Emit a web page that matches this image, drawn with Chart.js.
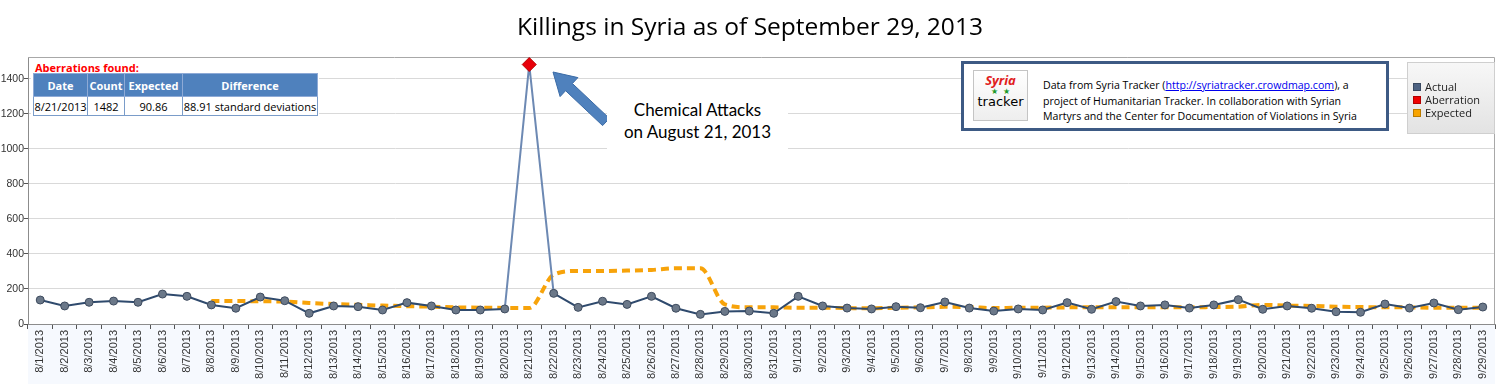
<!DOCTYPE html>
<html>
<head>
<meta charset="utf-8">
<script src="https://cdn.jsdelivr.net/npm/chart.js@4.4.0/dist/chart.umd.min.js"></script>
<style>
html,body{margin:0;padding:0;background:#fff;overflow:hidden;}
#wrap{position:relative;width:1500px;height:384px;}
#chart{position:absolute;left:0;top:0;}
.ov{position:absolute;font-family:'Open Sans',sans-serif;color:#000;}
#title{left:0;top:9px;width:1500px;text-align:center;font-size:24.5px;}
#aber{left:31px;top:59px;width:288px;height:60px;background:#fff;}
#aber .cap{position:absolute;left:4px;top:1px;color:#f00;font-weight:bold;font-size:11px;}
#aber table{position:absolute;left:2px;top:14px;border-collapse:collapse;font-size:11px;}
#aber th{background:#4f81bd;color:#fff;font-weight:bold;height:22px;border:1px solid #8eaad6;padding:0;}
#aber td{height:18px;border:1px solid #7a9cc9;padding:0;text-align:center;}
#note{left:607px;top:88px;width:181px;height:62px;background:#fff;text-align:center;font-family:Lato,sans-serif;font-size:17px;line-height:22px;padding-top:11px;box-sizing:border-box;}
#info{left:961px;top:61px;width:428px;height:70px;background:#fff;border:3px solid #3d5a84;box-sizing:border-box;}
#logo{position:absolute;left:9px;top:6px;width:55px;height:51px;border:1px solid #c4c4c4;box-sizing:border-box;background:linear-gradient(#fff,#eee);text-align:center;line-height:1;}
#logo .s{color:#e0201c;font-style:italic;font-weight:bold;font-size:13px;margin-top:3px;}
#logo .st{color:#1e9a2a;font-size:8px;}
#logo .t{font-size:13px;font-family:'DejaVu Sans',sans-serif;}
#info .txt{position:absolute;left:79px;top:14px;font-size:10.6px;line-height:15.5px;white-space:nowrap;}
#info a{color:#00e;text-decoration:underline;}
#legend{left:1407px;top:62px;width:88px;height:72px;border:1px solid #cfcfcf;box-sizing:border-box;background:linear-gradient(#f7f7f7,#e3e3e3);font-size:11px;color:#222;}
#legend .row{position:absolute;left:5px;height:13px;line-height:13px;white-space:nowrap;}
#legend .sw{display:inline-block;width:8px;height:8px;margin-right:4px;vertical-align:-0px;border:1px solid rgba(0,0,0,.25);box-sizing:border-box;}
</style>
</head>
<body>
<div id="wrap">
  <canvas id="chart" width="1500" height="384"></canvas>
  <div class="ov" id="title">Killings in Syria as of September 29, 2013</div>
  <div class="ov" id="aber">
    <div class="cap">Aberrations found:</div>
    <table>
      <tr><th style="width:53px">Date</th><th style="width:36px">Count</th><th style="width:57px">Expected</th><th style="width:134px">Difference</th></tr>
      <tr><td>8/21/2013</td><td>1482</td><td>90.86</td><td>88.91 standard deviations</td></tr>
    </table>
  </div>
  <svg class="ov" style="left:0;top:0" width="1500" height="384">
    <polygon points="553,72 577.9,77.6 572.4,83.5 609.4,118.4 602.6,125.6 565.6,90.7 560.1,96.6" fill="#4f81bd" stroke="#3a6aa5" stroke-width="1"/>
  </svg>
  <div class="ov" id="note">Chemical Attacks<br>on August 21, 2013</div>
  <div class="ov" id="info">
    <div id="logo"><div class="s">Syria</div><div class="st">★ &nbsp;★</div><div class="t">tracker</div></div>
    <div class="txt">Data from Syria Tracker (<a>http://syriatracker.crowdmap.com</a>), a<br>project of Humanitarian Tracker. In collaboration with Syrian<br>Martyrs and the Center for Documentation of Violations in Syria</div>
  </div>
  <div class="ov" id="legend">
    <div class="row" style="top:17px"><span class="sw" style="background:#4d6282"></span>Actual</div>
    <div class="row" style="top:30px"><span class="sw" style="background:#e00"></span>Aberration</div>
    <div class="row" style="top:43px"><span class="sw" style="background:#f8a400"></span>Expected</div>
  </div>
</div>
<script>
const days = ['8/1/2013','8/2/2013','8/3/2013','8/4/2013','8/5/2013','8/6/2013','8/7/2013','8/8/2013','8/9/2013','8/10/2013',
  '8/11/2013','8/12/2013','8/13/2013','8/14/2013','8/15/2013','8/16/2013','8/17/2013','8/18/2013','8/19/2013','8/20/2013',
  '8/21/2013','8/22/2013','8/23/2013','8/24/2013','8/25/2013','8/26/2013','8/27/2013','8/28/2013','8/29/2013','8/30/2013',
  '8/31/2013','9/1/2013','9/2/2013','9/3/2013','9/4/2013','9/5/2013','9/6/2013','9/7/2013','9/8/2013','9/9/2013',
  '9/10/2013','9/11/2013','9/12/2013','9/13/2013','9/14/2013','9/15/2013','9/16/2013','9/17/2013','9/18/2013','9/19/2013',
  '9/20/2013','9/21/2013','9/22/2013','9/23/2013','9/24/2013','9/25/2013','9/26/2013','9/27/2013','9/28/2013','9/29/2013'];

const actual = [137,103,124,131,124,171,158,109,90,154,
  133,61,103,99,80,122,103,80,80,86,
  1482,175,95,130,112,158,90,55,72,74,
  61,158,103,91,86,99,93,126,91,74,
  86,80,122,84,128,103,109,91,109,139,
  84,103,90,70,67,114,91,120,82,97];

const expected = [null,null,null,null,null,null,null,131,131,130,
  128,120,114,110,105,102,99,95,93,92,
  90.86,282,303,303,305,309,318,318,112,95,
  95,93,93,91,90,93,95,98,97,91,
  93,93,95,95,95,95,96,95,97,99,
  109,105,103,99,97,95,95,93,93,93];

const yTicks = [0,200,400,600,800,1000,1200,1400];
const aberDay = '8/21/2013';
const aberIdx = days.indexOf(aberDay);

const $ = (id) => document.getElementById(id);
const axisFont = {family:'Liberation Sans', size:11};

const frame = {
  id:'frame',
  beforeDraw(c){
    const a = c.chartArea, x = c.ctx;
    x.save();
    x.fillStyle = '#f6f9fe';
    x.fillRect(a.left, a.bottom, a.right - a.left, c.height - a.bottom);
    x.restore();
  },
  beforeDatasetsDraw(c){
    const a = c.chartArea, x = c.ctx;
    x.save();
    x.strokeStyle = '#a8a8a8'; x.lineWidth = 1;
    x.beginPath();
    x.moveTo(a.left, a.top + .5); x.lineTo(a.right - .5, a.top + .5); x.lineTo(a.right - .5, a.bottom);
    x.stroke();
    x.restore();
  }
};

new Chart($('chart'), {
  type:'line',
  data:{
    labels:days,
    datasets:[
      {label:'Actual', data:actual, borderColor:'#2f4a6d', borderWidth:2, tension:0,
        pointStyle:actual.map((v,i)=> i===aberIdx ? 'rectRot' : 'circle'),
        pointRadius:actual.map((v,i)=> i===aberIdx ? 7 : 4),
        pointBackgroundColor:actual.map((v,i)=> i===aberIdx ? '#e8000a' : '#6b7889'),
        pointBorderColor:actual.map((v,i)=> i===aberIdx ? '#b80000' : '#3e4b5e'),
        pointBorderWidth:1,
        segment:{borderColor: s => (s.p0DataIndex===aberIdx-1 || s.p0DataIndex===aberIdx) ? '#6d89b3' : undefined}},
      {label:'Expected', data:expected, borderColor:'#f7a30a', borderWidth:4, borderDash:[8,5],
        cubicInterpolationMode:'monotone', pointRadius:0, spanGaps:false}
    ]
  },
  options:{
    responsive:false, animation:false,
    layout:{padding:{top:57, right:3, left:0, bottom:0}},
    plugins:{legend:{display:false}, title:{display:false}, tooltip:{enabled:false}},
    scales:{
      x:{offset:true,
        grid:{display:true, drawOnChartArea:false, offset:true, tickLength:5, tickColor:'#555'},
        border:{color:'#8c8c8c'},
        ticks:{autoSkip:false, minRotation:90, maxRotation:90, font:axisFont, color:'#333', padding:1},
        afterFit: s => { s.height = 60; }},
      y:{min:0, max:1525,
        afterBuildTicks: s => { s.ticks = yTicks.map(v => ({value:v})); },
        grid:{color:'#d9d9d9', tickLength:4, tickColor:'#555'},
        border:{color:'#8c8c8c'},
        ticks:{font:{family:'Liberation Sans', size:10.5}, color:'#333', padding:0, callback: v => String(v)},
        afterFit: s => { s.width = 28; }}
    }
  },
  plugins:[frame]
});
</script>
</body>
</html>
